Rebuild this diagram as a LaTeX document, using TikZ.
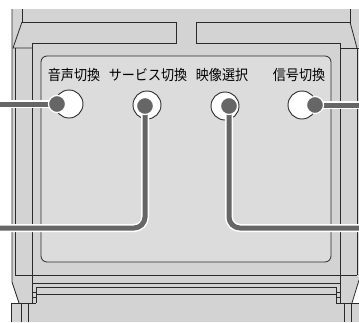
\documentclass[tikz,border=0pt]{standalone}
\usepackage{fontspec}
\usepackage{graphicx}
\newfontfamily\jp{Noto Sans CJK JP}
\definecolor{bgray}{HTML}{D3D3D3}
\definecolor{pgray}{HTML}{DCDCDC}
\definecolor{lcol}{HTML}{2A2A2A}
\definecolor{cgray}{HTML}{666666}
\tikzset{
  ln/.style={draw=lcol, line width=0.8pt},
  btn/.style={circle, draw=lcol, line width=0.9pt, fill=white, minimum size=28pt, inner sep=0pt},
  knob/.style={circle, fill=cgray, draw=white, line width=1.2pt, minimum size=17pt, inner sep=0pt},
  conn/.style={draw=white, line width=1.5pt, double=cgray, double distance=5pt},
  lbl/.style={font=\jp\fontsize{14.5}{15}\selectfont, text=black, inner sep=0pt}
}
\begin{document}
\begin{tikzpicture}[x=1pt,y=-1pt]
\useasboundingbox (0,0) rectangle (359,322);
% body
\fill[bgray] (12,9) -- (359,9) -- (359,322) -- (11,322) -- (11,303) -- (19,303) -- (12,282) -- cycle;
\fill[white] (359,280) -- (352,303) -- (359,303) -- cycle;
% panel
\draw[ln, fill=pgray, rounded corners=6pt] (41,56) rectangle (331,262);
% top structure
\draw[ln] (22,9) -- (22,22) -- (176,22) -- (176,43) -- (32,43) -- (32,303);
\draw[ln] (350,9) -- (350,22) -- (196,22) -- (196,43) -- (340,43) -- (340,303);
\draw[ln] (22,22) -- (13,48) -- (32,48);
\draw[ln] (350,22) -- (357,48);
\draw[ln] (340,48) -- (359,48);
\draw[ln] (12,9) -- (12,282) -- (19,303);
\draw[ln] (359,280) -- (352,303);
\draw[ln] (15,48) -- (15,275);
\draw[ln] (357,48) -- (357,275);
% bottom structure
\draw[ln] (15,275) -- (357,275);
\draw[ln] (32,283) -- (340,283);
\draw[ln] (36,287) -- (336,287);
\draw[ln] (36,294) -- (336,294);
\draw[ln] (36,287) -- (36,303);
\draw[ln] (336,287) -- (336,303);
\draw[ln] (11,303) -- (36,303);
\draw[ln] (336,303) -- (359,303);
\draw[ln] (32,292) -- (36,292) (32,297) -- (36,297);
\draw[ln] (336,292) -- (340,292) (336,297) -- (340,297);
\draw[ln] (11,303) -- (11,322) (21,303) -- (21,322) (28,303) -- (28,322);
\draw[ln] (344,303) -- (344,322) (351,303) -- (351,322);
% labels
\node[lbl] (t1) at (74,75) {\scalebox{0.9}[1]{音声切換}};
\node[lbl] (t2) at (148,75) {\scalebox{0.9}[1]{サービス切換}};
\node[lbl] (t3) at (222,75) {\scalebox{0.9}[1]{映像選択}};
\node[lbl] (t4) at (299,75) {\scalebox{0.9}[1]{信号切換}};
% buttons
\node[btn] (b1) at (69,104) {};
\node[btn] (b2) at (147,105) {};
\node[btn] (b3) at (225,106) {};
\node[btn] (b4) at (302,105) {};
% connector ends
\coordinate (e1) at (0,104);
\coordinate (e2) at (0,228);
\coordinate (e3) at (359,228);
\coordinate (e4) at (359,105);
\coordinate (k1) at (57,104);
\coordinate (k2) at (145,106);
\coordinate (k3) at (229,106);
\coordinate (k4) at (315,105);
% connectors
\draw[conn] (k1) -- (e1);
\draw[conn, rounded corners=11pt] (k2) -- (k2 |- e2) -- (e2);
\draw[conn, rounded corners=11pt] (k3) -- (k3 |- e3) -- (e3);
\draw[conn] (k4) -- (e4);
% knobs
\node[knob] (d1) at (k1) {};
\node[knob] (d2) at (k2) {};
\node[knob] (d3) at (k3) {};
\node[knob] (d4) at (k4) {};
\end{tikzpicture}
\end{document}
